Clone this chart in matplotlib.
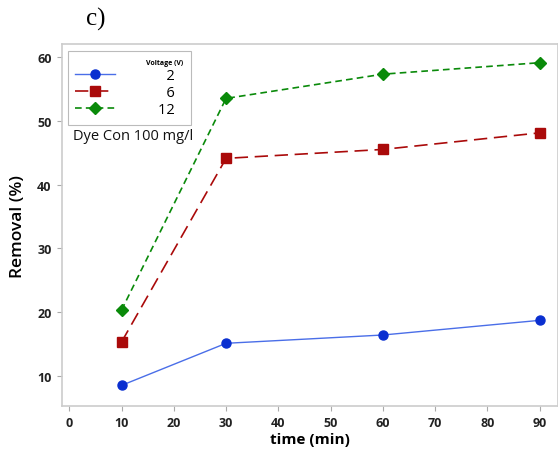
import matplotlib
matplotlib.use("Agg")
import matplotlib.pyplot as plt
from matplotlib.lines import Line2D

plt.rcParams['font.family'] = ['Open Sans', 'DejaVu Sans']

time = [10, 30, 60, 90]
v2 = [8.5, 15.1, 16.4, 18.7]
v6 = [15.3, 44.1, 45.5, 48.1]
v12 = [20.3, 53.5, 57.3, 59.1]
voltage_labels = ['\u20072\u2007', '\u20076\u2007', '12\u2007']
xticks = [0, 10, 20, 30, 40, 50, 60, 70, 80, 90]
yticks = [10, 20, 30, 40, 50, 60]

fig = plt.figure(figsize=(5.58, 4.52), dpi=100)
ax = fig.add_axes([0.111, 0.100, 0.889, 0.800])

blue = '#0a2fd0'
blue_line = '#4a6ee8'
red = '#aa0a0a'
green = '#0a8a0a'

ax.plot(time, v2, color=blue_line, lw=1.0, zorder=2)
ax.plot(time, v2, ls='none', marker='o', ms=6.5, color=blue, zorder=3)
ax.plot(time, v6, color=red, lw=1.2, dashes=(8, 4), zorder=2)
ax.plot(time, v6, ls='none', marker='s', ms=6.5, color=red, zorder=3)
ax.plot(time, v12, color=green, lw=1.2, dashes=(4, 2.5), zorder=2)
ax.plot(time, v12, ls='none', marker='D', ms=6.5, color=green, zorder=3)

ax.set_xlim(-1.4, 93.5)
ax.set_ylim(5.3, 62)
ax.set_xticks(xticks)
ax.set_yticks(yticks)
for lab in ax.get_xticklabels() + ax.get_yticklabels():
    lab.set_fontweight('bold')
    lab.set_fontsize(9)
    lab.set_color('#222222')
ax.tick_params(direction='out', length=3.5, width=0.8, color='#aaaaaa', pad=4)
for s in ax.spines.values():
    s.set_color('#cccccc')
    s.set_linewidth(1.2)

ax.set_xlabel('time (min)', fontsize=11, fontweight='bold', labelpad=2)
ax.set_ylabel('Removal (%)', fontsize=12.5, fontweight='semibold', labelpad=8)

handles = [
    Line2D([], [], color=blue_line, lw=1.0, marker='o', ms=6.5, mfc=blue, mec=blue),
    Line2D([], [], color=red, lw=1.2, dashes=(8, 4), marker='s', ms=6.5, mfc=red, mec=red),
    Line2D([], [], color=green, lw=1.2, dashes=(4, 2.5), marker='D', ms=6.5, mfc=green, mec=green),
]
leg = ax.legend(handles, voltage_labels, title='Voltage (V)', alignment='right',
                loc='upper left', bbox_to_anchor=(0.012, 0.98), fontsize=10.5,
                title_fontproperties={'size': 5, 'weight': 'bold'},
                handlelength=2.7, handletextpad=3.0, labelspacing=0.15,
                borderpad=0.5, frameon=True, fancybox=False, edgecolor='#aaaaaa',
                borderaxespad=0)
leg.get_frame().set_linewidth(0.8)

ax.text(0.022, 0.748, 'Dye Con 100 mg/l', transform=ax.transAxes, fontsize=10.5,
        ha='left', va='center', color='#111111')

fig.text(0.172, 0.958, 'c)', family='Liberation Serif', fontsize=18, ha='center', va='center')

fig.savefig('out.png', dpi=100)
